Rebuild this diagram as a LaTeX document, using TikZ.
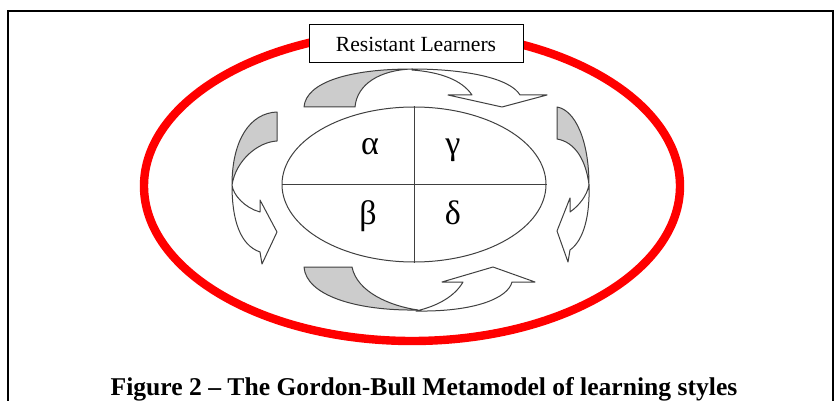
\documentclass[tikz,border=0pt]{standalone}
\usepackage{fontspec}
\setmainfont{Liberation Serif}
\usetikzlibrary{shapes.geometric}

\begin{document}
\begin{tikzpicture}[
    x=0.5pt,y=-0.5pt,
    every node/.style={font=\fontsize{10.8}{13}\selectfont},
    thin line/.style={draw=black!75,line width=0.5pt,line join=round},
    backband/.style={thin line,fill=black!20},
    frontband/.style={thin line,fill=white},
    greek/.style={font=\fontsize{17}{20}\selectfont,anchor=base},
  ]
  \useasboundingbox (0,0) rectangle (836,401);
  \draw[line width=1pt] (8,401) -- (8,11) -- (833,11) -- (833,401);
  \draw[red,line width=4.2pt] (412,186) ellipse [x radius=268,y radius=155];
  \node[draw,line width=0.5pt,fill=white,minimum width=107pt,minimum height=19pt,inner sep=0pt] (resist) at (416,44) {Resistant Learners};

  \node[ellipse,thin line,minimum width=132pt,minimum height=77.5pt,inner sep=0pt] (styles) at (414,184.5) {};
  \draw[thin line] (styles.north) -- (styles.south);
  \draw[thin line] (styles.west) -- (styles.east);
  \node[greek] (alpha) at (370,155) {α};
  \node[greek] (gamma) at (453,155) {γ};
  \node[greek] (beta)  at (368,225) {β};
  \node[greek] (delta) at (453,225) {δ};

  % top
  \draw[backband] (304,107) .. controls (306,82) and (350,69) .. (412,69)
    .. controls (380,70) and (357,84) .. (355,107) -- cycle;
  \draw[frontband] (412,69) .. controls (465,69) and (510,78) .. (520,95) -- (547,95) -- (502,107)
    -- (448,95) -- (472,95) .. controls (462,80) and (440,72) .. (412,70) -- cycle;
  % bottom
  \draw[backband] (304,267) -- (352,267) .. controls (357,292) and (390,306) .. (418,310)
    .. controls (355,311) and (306,295) .. (304,267) -- cycle;
  \draw[frontband] (416,311) .. controls (475,312) and (508,298) .. (512,282) -- (535,282) -- (493,267)
    -- (442,282) -- (463,282) .. controls (455,296) and (438,306) .. (416,311) -- cycle;
  % left
  \draw[backband] (277,112) -- (277,141) .. controls (258,142) and (236,160) .. (232,185)
    .. controls (232,140) and (250,113) .. (277,112) -- cycle;
  \draw[frontband] (232,185) .. controls (232,220) and (240,245) .. (260,252) -- (262,264) -- (277,232)
    -- (260,200) -- (260,212) .. controls (245,208) and (233,195) .. (232,185) -- cycle;
  % right
  \draw[backband] (557,107) .. controls (575,110) and (589,140) .. (589,185)
    .. controls (586,160) and (575,142) .. (557,139) -- cycle;
  \draw[frontband] (589,185) .. controls (590,215) and (584,240) .. (570,250) -- (568,262) -- (557,231)
    -- (570,198) -- (570,212) .. controls (580,205) and (587,195) .. (589,185) -- cycle;

  \node[font=\bfseries\fontsize{12.8}{15}\selectfont,anchor=base] (caption) at (424,395)
    {Figure 2 – The Gordon-Bull Metamodel of learning styles};
\end{tikzpicture}
\end{document}
